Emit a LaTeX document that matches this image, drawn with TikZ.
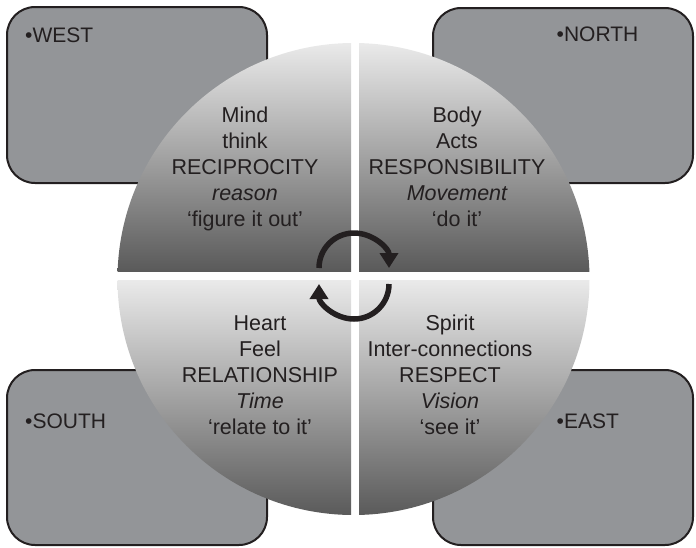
\documentclass[tikz,border=0pt]{standalone}
\usepackage{fontspec}
\setmainfont{Liberation Sans}
\usetikzlibrary{arrows.meta}
\definecolor{boxgray}{HTML}{939598}
\definecolor{ink}{HTML}{231F20}
\definecolor{shadelight}{HTML}{EAEAEA}
\definecolor{shadedark}{HTML}{5A5A5A}

\begin{document}
\begin{tikzpicture}[x=1pt,y=-1pt,
  dirbox/.style={draw=ink, line width=2pt, fill=boxgray, rounded corners=28pt,
    minimum width=260pt, inner sep=0pt, outer sep=0pt},
  dirlabel/.style={anchor=base west, inner sep=0pt, text=ink,
    font=\fontsize{21}{25}\selectfont},
  qline/.style={anchor=base, inner sep=0pt, text=ink,
    font=\fontsize{21.5}{25}\selectfont},
  quarter/.style={top color=shadelight, bottom color=shadedark},
  cyclearrow/.style={draw=ink, line width=5.5pt,
    -{Triangle[length=15pt,width=18pt]}}]
\useasboundingbox (0,0) rectangle (696,547);

% the four direction boxes, partly hidden by the wheel
\node[dirbox, minimum height=176pt] (west)  at (137,95)    {};
\node[dirbox, minimum height=175pt] (north) at (563,95.5)  {};
\node[dirbox, minimum height=175pt] (south) at (137,457.5) {};
\node[dirbox, minimum height=175pt] (east)  at (563,457.5) {};

\node[dirlabel] (westlabel)  at (25,42.3)    {•WEST};
\node[dirlabel] (northlabel) at (556.5,41.8) {•NORTH};
\node[dirlabel] (southlabel) at (25,428)     {•SOUTH};
\node[dirlabel] (eastlabel)  at (556.5,428.3){•EAST};

% the wheel: four shaded quarters separated by white gaps
\begin{scope}
  \clip (353.5,279) circle[radius=236];
  \shade[quarter] (110,43)  rectangle (351,271);
  \shade[quarter] (359,43)  rectangle (600,271);
  \shade[quarter] (110,280) rectangle (351,515);
  \shade[quarter] (359,280) rectangle (600,515);
\end{scope}

% west quarter
\node[qline] (mind)   at (245,122.5) {Mind};
\node[qline] (think)  at (245,148.5) {think};
\node[qline] (recip)  at (245,174.5) {RECIPROCITY};
\node[qline] (reason) at (245,200.5) {\itshape reason};
\node[qline] (figure) at (245,226.5) {‘figure it out’};

% north quarter
\node[qline] (body)   at (457,122.5) {Body};
\node[qline] (acts)   at (457,148.5) {Acts};
\node[qline] (resp)   at (457,174.5) {RESPONSIBILITY};
\node[qline] (move)   at (457,200.5) {\itshape Movement};
\node[qline] (doit)   at (457,226.5) {‘do it’};

% south quarter
\node[qline] (heart)  at (260,330.5) {Heart};
\node[qline] (feel)   at (260,356.5) {Feel};
\node[qline] (rel)    at (260,382)   {RELATIONSHIP};
\node[qline] (time)   at (260,408)   {\itshape Time};
\node[qline] (relate) at (260,434)   {‘relate to it’};

% east quarter
\node[qline] (spirit) at (450,330.5) {Spirit};
\node[qline] (inter)  at (450,356.5) {Inter-connections};
\node[qline] (respect)at (450,382)   {RESPECT};
\node[qline] (vision) at (450,408)   {\itshape Vision};
\node[qline] (seeit)  at (450,434)   {‘see it’};

% circular arrows at the centre
\coordinate (upperstart) at (319,268);
\coordinate (lowerstart) at (389,284);
\draw[cyclearrow] (upperstart) arc[start angle=180, end angle=360, radius=35];
\draw[cyclearrow] (lowerstart) arc[start angle=0, end angle=180, radius=35];
\end{tikzpicture}
\end{document}
